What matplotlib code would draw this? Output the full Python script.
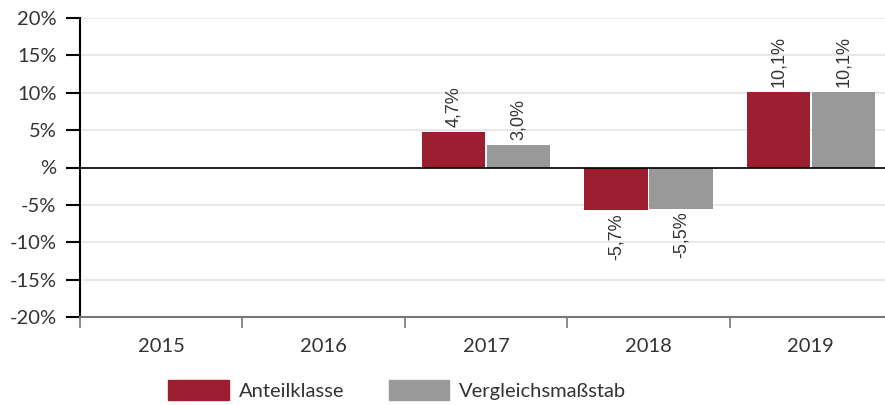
import matplotlib
matplotlib.use("Agg")
import matplotlib.pyplot as plt
import numpy as np

# Jahreswerte
years = ['2015', '2016', '2017', '2018', '2019']
anteilklasse = [None, None, 4.7, -5.7, 10.1]
vergleich = [None, None, 3.0, -5.5, 10.1]
yticks = [-20, -15, -10, -5, 0, 5, 10, 15, 20]
ytick_labels = ['-20%', '-15%', '-10%', '-5%', '%', '5%', '10%', '15%', '20%']

red = '#9b1f30'
grey = '#999999'
text_col = '#333333'

plt.rcParams['font.family'] = ['Lato', 'DejaVu Sans']

fig = plt.figure(figsize=(8.85, 4.05), dpi=100)
ax = fig.add_axes([80 / 885, 88 / 405, 812 / 885, 299 / 405])

x = np.arange(len(years))
w = 0.39

def label(xpos, v):
    txt = f'{v:.1f}%'.replace('.', ',')
    if v >= 0:
        ax.text(xpos, v + 0.7, txt, rotation=90, ha='center', va='bottom',
                fontsize=13, color=text_col, family='Liberation Sans')
    else:
        ax.text(xpos, v - 0.4, txt, rotation=90, ha='center', va='top',
                fontsize=13, color=text_col, family='Liberation Sans')

for i, (a, b) in enumerate(zip(anteilklasse, vergleich)):
    if a is not None:
        ax.bar(x[i] - 0.2, a, w, color=red, zorder=3)
        label(x[i] - 0.2, a)
    if b is not None:
        ax.bar(x[i] + 0.2, b, w, color=grey, zorder=3)
        label(x[i] + 0.2, b)

ax.set_xlim(-0.5, 4.5)
ax.set_ylim(-20, 20)
ax.set_yticks(yticks)
ax.set_yticklabels(ytick_labels)
ax.yaxis.grid(True, color='#e4e4e4', lw=1.2, zorder=0)
ax.axhline(0, color='black', lw=1.2, zorder=4)

# Jahreslabels mittig, Ticks an den Grenzen
ax.set_xticks(x)
ax.set_xticklabels(years)
ax.tick_params(axis='x', length=0, pad=15, labelsize=14.5, labelcolor=text_col)
ax.set_xticks(np.arange(-0.5, 5, 1), minor=True)
ax.tick_params(axis='x', which='minor', length=8, color='#777777', width=1.2)
ax.tick_params(axis='y', length=10, width=1.5, color='black', labelsize=14.5,
               labelcolor=text_col, pad=7)

for s in ['top', 'right']:
    ax.spines[s].set_visible(False)
ax.spines['left'].set_color('black')
ax.spines['left'].set_linewidth(1.5)
ax.spines['bottom'].set_color('#777777')
ax.spines['bottom'].set_linewidth(1.5)

handles = [plt.Rectangle((0, 0), 1, 1, color=red),
           plt.Rectangle((0, 0), 1, 1, color=grey)]
fig.legend(handles, ['Anteilklasse', 'Vergleichsmaßstab'], ncol=2, frameon=False,
           loc='center', bbox_to_anchor=(0.449, 0.037), fontsize=14.5,
           handlelength=3.0, handleheight=1.1, handletextpad=0.5,
           columnspacing=2.2, labelcolor=text_col)

fig.savefig('out.png', dpi=100)
